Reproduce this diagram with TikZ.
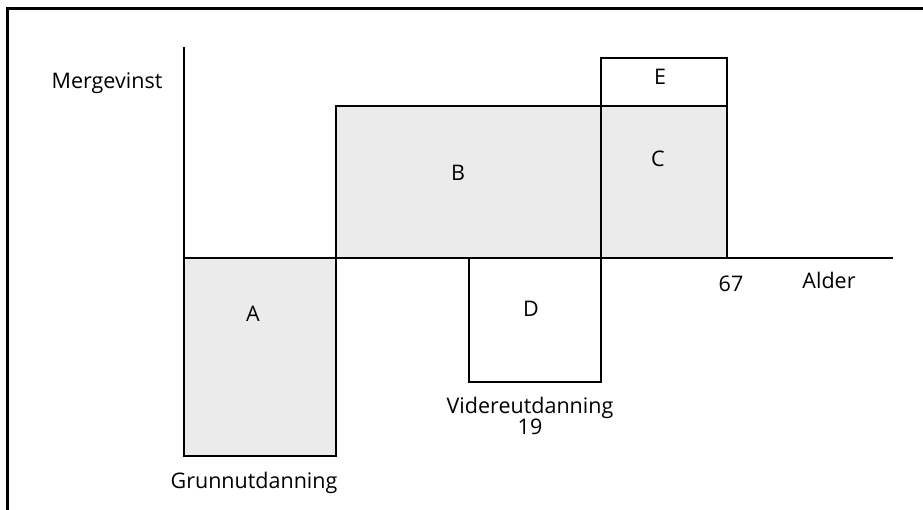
\documentclass[tikz,border=0pt]{standalone}
\usepackage{fontspec}
\setmainfont{Open Sans}
\begin{document}
\begin{tikzpicture}[x=1pt,y=-1pt,
  box/.style={draw=black,line width=1.8pt},
  shaded/.style={box,fill=black!8},
  lbl/.style={font=\fontsize{21.5}{20}\selectfont,inner sep=0pt,align=center}]
\useasboundingbox (0,0) rectangle (923,510);
% frame
\draw[line width=3pt] (7,510) -- (7,9) -- (923,9);
% boxes
\path[shaded] (184,258) rectangle (336,456);
\path[shaded] (336,106) rectangle (601,258);
\path[shaded] (601,106) rectangle (727,258);
\path[box] (601,58) rectangle (727,106);
\draw[box] (469,258) -- (469,382) -- (601,382) -- (601,258);
% axes
\coordinate (ytop) at (184,47);
\coordinate (ybot) at (184,258);
\coordinate (xend) at (893,258);
\draw[box] (ytop) -- (ybot) -- (xend);
% labels
\node[lbl] (merg) at (107,83) {Mergevinst};
\node[lbl] (a) at (253,314) {A};
\node[lbl] (b) at (458,173) {B};
\node[lbl] (c) at (658,159) {C};
\node[lbl] (e) at (660,77) {E};
\node[lbl] (d) at (531,309) {D};
\node[lbl] (s67) at (731,284) {67};
\node[lbl] (alder) at (829,280) {Alder};
\node[lbl] (vid) at (530,416) {Videreutdanning\\19};
\node[lbl] (grunn) at (254,483) {Grunnutdanning};
\end{tikzpicture}
\end{document}
